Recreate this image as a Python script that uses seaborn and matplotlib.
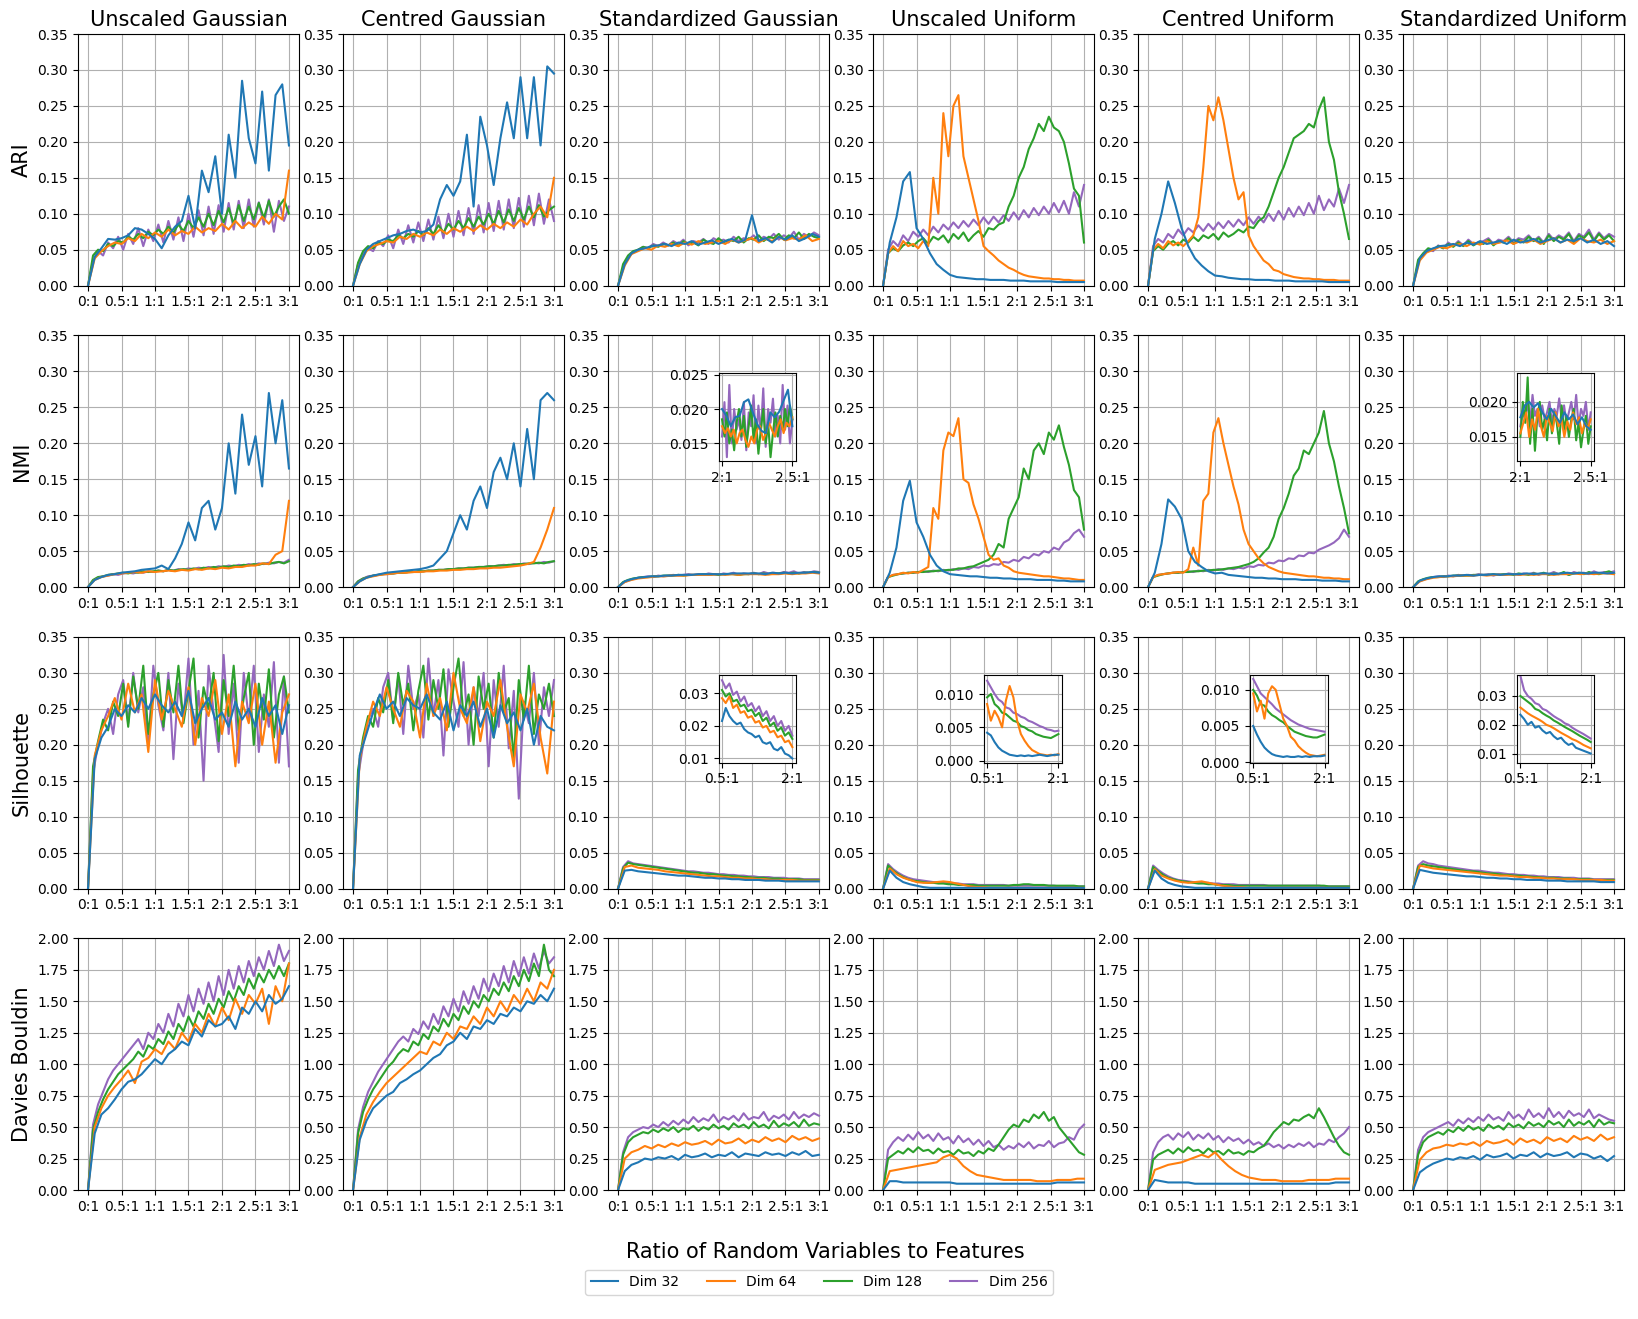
import numpy as np
import pandas as pd
import matplotlib
matplotlib.use("Agg")
import matplotlib.pyplot as plt
import seaborn as sns

# ---------------------------------------------------------------- labels
DIMS = [32, 64, 128, 256]
DIM_LABELS = ["Dim 32", "Dim 64", "Dim 128", "Dim 256"]
COLUMN_TITLES = ["Unscaled Gaussian", "Centred Gaussian", "Standardized Gaussian",
                 "Unscaled Uniform", "Centred Uniform", "Standardized Uniform"]
ROW_LABELS = ["ARI", "NMI", "Silhouette", "Davies Bouldin"]
X_TICKS = [0, 0.5, 1, 1.5, 2, 2.5, 3]
X_TICK_LABELS = ["0:1", "0.5:1", "1:1", "1.5:1", "2:1", "2.5:1", "3:1"]
X_LABEL = "Ratio of Random Variables to Features"
RATIO_START, RATIO_END = 0.0, 3.0

# ---------------------------------------------------------------- data
# ARI / NMI / Silhouette values in thousandths, Davies Bouldin in hundredths,
# each series sampled evenly over the ratio range 0:1 .. 3:1
ARI_UG_D32 = [0,40,52,65,64,66,70,80,78,72,65,52,70,82,90,125,80,160,130,180,100,210,150,285,205,170,270,160,265,280,195]
ARI_UG_D64 = [0,38,48,55,60,58,66,62,72,66,74,68,78,70,76,72,82,74,80,76,86,78,90,80,88,82,96,86,100,92,160]
ARI_UG_D128 = [0,42,50,48,58,55,62,60,68,64,72,66,75,70,78,72,82,74,85,76,90,80,95,82,100,84,104,88,108,86,112,90,110,92,115,94,118,96,110,120,100]
ARI_UG_D256 = [0,35,48,42,60,52,68,50,72,58,80,55,78,62,85,60,90,64,95,62,100,68,105,70,110,72,112,75,115,78,118,80,120,82,116,85,120,75,118,90,110]

ARI_CG_D32 = [0,30,50,58,62,66,70,72,76,78,74,76,85,120,140,125,145,210,110,235,195,140,205,255,205,290,205,290,195,305,295]
ARI_CG_D64 = [0,30,48,55,58,62,60,68,65,72,68,74,70,78,72,80,75,82,76,84,78,86,80,88,82,92,85,100,110,95,150]
ARI_CG_D128 = [0,32,48,55,52,60,58,64,62,70,66,72,68,76,70,80,72,84,74,86,78,90,80,94,82,96,85,100,86,104,88,106,90,108,92,110,95,112,96,105,110]
ARI_CG_D256 = [0,30,45,52,48,62,55,70,52,78,58,84,60,88,62,92,64,96,66,100,68,104,70,108,72,112,74,115,76,118,78,120,80,122,82,125,84,128,86,120,90]

ARI_SG_D32 = [0,30,45,50,52,55,56,58,55,60,58,62,57,60,63,58,62,65,60,64,98,62,66,60,68,64,70,62,66,72,68]
ARI_SG_D64 = [0,28,44,48,52,50,56,54,58,55,60,57,62,58,60,62,58,64,60,63,66,60,65,62,68,63,66,64,70,62,65]
ARI_SG_D128 = [0,30,42,48,50,54,52,56,54,58,56,60,55,62,58,60,56,64,60,58,66,60,64,62,68,60,66,64,70,62,68,66,72,64,70,66,74,65,72,68,66]
ARI_SG_D256 = [0,25,40,46,50,54,52,58,55,60,56,62,58,64,56,62,60,65,58,66,62,64,60,68,62,66,64,70,62,68,65,72,64,70,66,75,64,72,68,74,70]

ARI_UU_D32 = [0,60,95,145,158,80,65,45,30,22,15,12,11,10,9,9,8,8,8,7,7,7,6,6,6,6,5,5,5,5,5]
ARI_UU_D64 = [0,45,55,48,62,55,58,52,62,55,150,100,240,180,250,265,180,150,120,90,55,48,42,35,30,25,22,18,15,13,12,11,10,10,9,9,8,8,7,7,7]
ARI_UU_D128 = [0,45,52,48,56,60,55,62,66,58,68,64,70,60,72,65,74,62,70,76,68,80,78,85,88,110,125,150,165,190,205,225,215,235,220,215,200,170,135,125,60]
ARI_UU_D256 = [0,50,62,55,70,62,75,68,78,70,82,74,85,78,88,80,90,82,92,84,95,86,96,88,98,90,102,92,105,95,108,98,110,100,115,102,118,100,130,110,140]

ARI_CU_D32 = [0,65,100,145,115,80,55,38,28,20,14,13,11,10,9,9,8,8,8,7,7,7,6,6,6,6,6,5,5,5,5]
ARI_CU_D64 = [0,50,58,52,62,56,60,55,62,70,95,165,250,230,262,230,190,150,120,130,70,55,45,35,30,22,20,16,14,12,11,10,10,9,9,8,8,8,7,7,7]
ARI_CU_D128 = [0,48,55,50,58,62,56,64,60,68,62,70,66,72,64,74,68,72,78,74,82,80,90,95,110,130,150,165,185,205,210,215,225,220,245,262,200,175,130,100,65]
ARI_CU_D256 = [0,55,65,60,72,66,78,70,80,74,84,76,86,78,88,80,90,82,92,84,95,86,96,88,100,90,104,92,108,96,110,98,115,100,125,105,120,110,135,115,140]

ARI_SU_D32 = [0,38,48,52,55,56,58,55,60,57,62,58,60,62,58,64,60,62,65,60,63,66,60,64,62,66,60,64,58,62,55]
ARI_SU_D64 = [0,35,46,50,54,52,56,58,55,60,57,62,58,60,63,58,62,60,64,58,62,66,60,64,58,66,62,60,64,58,62]
ARI_SU_D128 = [0,36,45,52,50,55,52,58,54,60,55,62,56,60,58,64,56,62,60,66,58,64,60,68,62,66,58,70,62,68,64,72,60,70,66,74,62,72,64,70,62]
ARI_SU_D256 = [0,32,44,50,48,56,52,60,55,62,56,64,58,60,62,66,58,64,62,68,60,66,64,70,62,68,60,72,64,70,66,74,62,72,68,78,64,74,66,72,68]

NMI_UG_D32 = [0,10,14,17,18,20,21,22,24,25,26,30,25,40,60,90,65,110,120,80,110,200,130,240,170,210,140,270,200,260,165]
NMI_UG_D64 = [0,10,14,16,18,19,20,21,20,22,21,22,23,22,24,23,25,24,26,25,27,26,28,28,30,30,33,32,45,50,120]
NMI_UG_D128 = [0,10,14,15,17,18,19,20,19,21,20,22,21,22,23,22,24,23,24,25,24,26,25,27,26,28,27,29,28,30,29,31,30,32,31,33,32,34,35,33,36]
NMI_UG_D256 = [0,9,13,15,16,18,17,19,20,19,21,20,22,21,23,22,24,23,25,24,26,25,27,26,28,27,29,28,30,29,31,30,32,31,33,32,34,33,35,34,38]

NMI_CG_D32 = [0,8,13,16,18,20,21,22,23,24,25,27,30,40,50,75,100,80,120,140,110,160,180,150,200,140,220,150,260,270,260]
NMI_CG_D64 = [0,8,13,15,17,18,19,20,20,21,21,22,22,23,23,24,24,25,25,26,26,27,27,28,29,30,32,35,55,80,110]
NMI_CG_D128 = [0,8,12,14,16,17,18,19,19,20,20,21,21,22,22,23,23,24,24,25,25,26,26,27,27,28,28,29,29,30,30,31,31,32,32,33,33,34,33,35,36]
NMI_CG_D256 = [0,8,12,15,16,17,18,18,19,20,20,21,21,22,22,23,23,24,24,25,25,26,26,27,27,28,28,29,29,30,31,30,32,31,33,32,34,33,35,34,36]

NMI_SG_D32 = [0,8,11,13,14,15,15,16,16,17,17,17,18,18,18,18,18,19,19,19,19,19,18,20,19,20,19,20,20,21,20]
NMI_SG_D64 = [0,7,10,12,13,14,15,15,16,16,16,17,17,17,17,18,17,18,17,18,18,18,17,18,18,19,18,19,19,20,19]
NMI_SG_D128 = [0,7,10,12,13,14,14,15,15,16,16,16,17,16,17,17,17,18,17,18,17,18,18,18,17,18,18,19,18,19,18,19,19,20,19,20,19,20,20,21,20]
NMI_SG_D256 = [0,6,9,11,13,14,15,14,16,15,16,17,16,17,18,17,18,17,19,18,17,19,18,20,17,19,18,20,18,21,19,20,19,21,20,22,19,21,20,22,21]

NMI_UU_D32 = [0,20,55,120,148,90,70,45,30,22,18,17,16,15,15,14,13,13,12,12,11,11,11,10,10,10,9,9,8,8,8]
NMI_UU_D64 = [0,14,17,18,20,19,21,20,24,28,110,95,190,215,210,235,150,145,115,95,70,45,38,40,30,27,22,20,19,18,17,16,15,15,14,13,12,12,11,10,10]
NMI_UU_D128 = [0,14,16,18,19,20,20,21,21,22,22,23,23,24,24,26,26,28,29,32,35,38,45,60,55,95,110,125,165,150,190,200,185,215,205,225,195,170,135,125,80]
NMI_UU_D256 = [0,14,17,18,19,20,20,21,22,21,23,22,24,23,25,24,26,25,28,27,30,29,32,31,35,34,38,36,42,40,46,44,50,48,55,52,62,66,75,80,70]

NMI_CU_D32 = [0,20,60,122,112,95,50,35,28,22,19,20,17,16,15,14,13,13,12,12,11,11,11,10,10,10,9,9,9,8,8]
NMI_CU_D64 = [0,14,17,18,19,20,21,20,25,55,30,120,130,215,235,200,170,140,115,80,60,50,40,33,28,25,22,20,19,18,17,16,15,15,14,13,13,12,12,11,11]
NMI_CU_D128 = [0,14,16,18,19,20,20,21,21,22,22,23,23,24,24,25,26,27,28,30,32,35,40,48,55,70,95,110,130,155,165,190,185,200,215,245,200,175,140,110,75]
NMI_CU_D256 = [0,14,17,18,19,20,20,21,22,21,23,22,24,23,25,24,26,25,27,26,29,28,31,30,34,33,37,36,40,39,44,43,48,47,52,55,58,62,68,80,70]

NMI_SU_D32 = [0,9,12,14,15,15,16,16,17,16,17,17,18,17,18,18,18,19,18,19,19,18,19,20,19,20,19,20,20,19,20]
NMI_SU_D64 = [0,8,11,13,14,15,15,16,16,16,17,16,17,17,17,18,17,18,17,18,18,17,18,18,19,18,19,18,19,19,18]
NMI_SU_D128 = [0,8,11,13,14,14,15,15,16,16,16,16,17,17,17,17,18,17,18,18,17,19,18,17,19,18,20,17,19,18,21,17,19,20,18,21,19,18,20,22,19]
NMI_SU_D256 = [0,7,10,12,14,15,14,16,15,17,16,17,16,18,17,18,16,18,17,19,18,17,19,18,20,17,19,18,21,18,20,17,21,19,20,18,22,19,21,20,22]

SIL_UG_D32 = [0,180,210,225,250,240,255,245,265,250,270,255,245,260,240,275,230,250,265,235,245,225,260,235,250,225,265,240,255,215,255]
SIL_UG_D64 = [0,185,220,240,265,235,285,245,270,190,290,235,275,250,225,280,200,265,240,290,215,270,170,260,230,285,200,260,175,245,270]
SIL_UG_D128 = [0,170,205,235,220,260,240,285,225,295,250,310,215,270,300,225,290,245,310,230,275,320,210,280,250,300,205,290,240,310,220,265,300,200,285,235,305,210,270,295,245]
SIL_UG_D256 = [0,160,200,230,250,215,270,290,230,300,245,280,200,310,255,220,300,180,285,235,320,200,275,150,310,245,190,325,215,285,175,300,235,310,190,270,225,315,175,295,170]

SIL_CG_D32 = [0,185,215,245,270,250,260,240,265,255,250,270,245,235,260,220,255,240,260,225,250,210,255,230,245,220,250,200,240,225,220]
SIL_CG_D64 = [0,180,225,260,240,280,250,225,275,260,210,285,240,265,220,300,250,230,280,205,260,240,290,225,170,270,245,285,210,160,260]
SIL_CG_D128 = [0,165,210,240,225,265,245,290,230,300,255,285,220,275,310,235,290,250,305,225,280,320,240,270,200,295,250,285,210,300,245,265,180,290,235,310,215,270,250,285,240]
SIL_CG_D256 = [0,155,200,235,250,225,280,300,235,295,215,310,250,270,210,320,240,290,185,305,260,225,315,200,280,240,300,170,290,225,310,195,275,125,260,230,300,200,280,240,290]

SIL_SG_D32 = [0,25,26,24,23,22,21,20,19,18,18,17,16,15,15,14,14,13,13,12,12,12,11,11,11,10,10,10,10,10,10]
SIL_SG_D64 = [0,30,32,29,28,27,26,24,23,22,21,20,19,18,17,17,16,15,15,14,14,13,13,12,12,12,12,11,11,11,11]
SIL_SG_D128 = [0,28,36,34,33,32,31,30,29,28,27,26,25,24,23,22,22,21,20,20,19,18,18,17,17,16,16,15,15,15,14,14,14,13,13,13,13,12,12,12,12]
SIL_SG_D256 = [0,30,38,35,34,33,32,31,30,29,28,27,26,25,24,24,23,22,22,21,20,20,19,19,18,18,17,17,16,16,16,15,15,15,14,14,14,13,13,13,13]

SIL_UU_D32 = [0,25,15,9,6,4,2,1,1,1,1,1,1,1,1,1,1,1,1,1,1,1,1,1,1,1,1,1,1,1,1]
SIL_UU_D64 = [0,28,20,15,12,9,8,8,9,10,9,7,5,3,2,2,1,1,1,1,1,1,1,1,1,1,1,1,1,1,1]
SIL_UU_D128 = [0,32,25,20,16,13,11,10,9,8,8,7,7,6,6,5,5,5,5,4,4,4,4,4,4,4,5,5,6,6,5,5,5,4,4,4,4,4,4,3,3]
SIL_UU_D256 = [0,34,27,22,18,15,13,12,11,10,9,9,8,8,7,7,6,6,6,5,5,5,5,5,5,4,4,4,4,4,4,4,4,4,4,3,3,3,3,3,3]

SIL_CU_D32 = [0,25,14,8,5,3,2,1,1,1,1,1,1,1,1,1,1,1,1,1,1,1,1,1,1,1,1,1,1,1,1]
SIL_CU_D64 = [0,27,18,14,11,9,8,9,10,8,6,4,3,2,2,1,1,1,1,1,1,1,1,1,1,1,1,1,1,1,1]
SIL_CU_D128 = [0,30,24,19,15,13,11,10,9,8,7,7,6,6,5,5,5,4,4,4,4,4,4,4,4,4,4,4,4,4,4,4,4,4,4,4,3,3,3,3,3]
SIL_CU_D256 = [0,32,26,21,17,14,12,11,10,9,9,8,8,7,7,6,6,6,5,5,5,5,5,5,4,4,4,4,4,4,4,4,4,4,4,3,3,3,3,3,3]

SIL_SU_D32 = [0,26,24,22,21,20,19,18,17,17,16,15,15,14,14,13,13,12,12,12,11,11,11,10,10,10,10,10,9,9,9]
SIL_SU_D64 = [0,32,30,28,27,26,25,24,23,22,21,20,19,18,18,17,16,16,15,15,14,14,13,13,13,12,12,12,12,11,11]
SIL_SU_D128 = [0,30,34,32,31,30,29,28,27,26,25,24,24,23,22,21,21,20,19,19,18,18,17,17,16,16,15,15,15,14,14,14,13,13,13,13,12,12,12,12,12]
SIL_SU_D256 = [0,32,38,35,34,32,31,30,29,28,27,26,25,25,24,23,22,22,21,20,20,19,19,18,18,17,17,16,16,16,15,15,15,14,14,14,13,13,13,13,13]

DB_UG_D32 = [0,45,60,65,72,80,86,88,92,98,104,100,108,112,118,115,128,122,135,130,132,138,128,145,140,150,142,155,148,152,162]
DB_UG_D64 = [0,50,65,75,82,88,95,85,102,105,112,108,118,112,125,118,132,125,140,130,145,135,152,140,155,148,160,132,162,150,180]
DB_UG_D128 = [0,48,62,72,80,86,92,96,100,104,110,106,115,112,120,116,126,120,132,126,138,130,142,136,148,140,152,145,158,150,162,155,168,160,172,165,175,168,178,170,180]
DB_UG_D256 = [0,52,68,78,88,95,100,105,110,115,120,112,125,120,132,125,140,130,148,138,155,142,160,148,165,150,170,155,175,160,178,165,182,170,185,175,190,178,195,182,190]

DB_CG_D32 = [0,40,55,65,70,75,78,85,88,92,95,100,105,108,115,118,125,120,130,128,135,132,140,138,145,142,150,148,155,150,160]
DB_CG_D64 = [0,42,60,70,78,85,90,95,100,105,110,108,118,115,125,120,130,128,138,132,145,138,150,142,155,148,160,150,165,160,175]
DB_CG_D128 = [0,45,62,72,80,86,92,98,102,108,112,110,118,115,124,120,130,126,136,130,140,135,146,140,150,145,155,150,160,155,165,158,170,162,175,166,180,170,195,175,170]
DB_CG_D256 = [0,48,66,78,86,94,100,106,112,118,122,118,128,124,134,128,140,132,146,138,152,142,158,148,162,152,168,158,172,162,178,165,182,170,185,172,188,176,190,180,185]

DB_SG_D32 = [0,15,20,22,25,24,26,25,27,24,28,26,27,29,26,28,27,30,26,29,28,27,30,28,29,27,30,28,31,27,28]
DB_SG_D64 = [0,25,30,32,35,33,36,34,37,35,38,36,37,39,36,40,37,38,41,37,40,38,42,39,41,38,43,40,42,39,41]
DB_SG_D128 = [0,28,38,42,44,46,45,48,46,49,47,50,46,49,48,51,47,50,48,52,49,51,48,53,50,52,49,54,50,52,49,55,50,53,51,54,50,56,51,53,52]
DB_SG_D256 = [0,30,42,46,48,50,49,52,50,54,51,55,52,56,53,58,54,57,55,60,54,58,56,59,55,61,56,58,57,62,55,59,57,60,56,62,57,60,58,61,59]

DB_UU_D32 = [0,7,7,6,6,6,6,6,6,6,6,5,5,5,5,5,5,5,5,5,5,5,5,5,5,5,6,6,6,6,6]
DB_UU_D64 = [0,15,16,17,18,19,20,21,22,26,28,25,19,15,12,11,10,9,8,8,8,8,8,7,7,7,8,8,8,9,9]
DB_UU_D128 = [0,25,28,31,29,33,30,34,31,32,29,33,30,31,28,32,29,30,27,31,29,33,31,36,42,48,52,50,56,54,60,57,62,55,58,50,45,40,35,30,28]
DB_UU_D256 = [0,32,38,42,39,44,40,46,41,44,39,45,40,42,37,43,38,41,36,40,35,39,34,36,32,35,33,37,34,38,33,36,35,39,34,37,38,42,40,48,52]

DB_CU_D32 = [0,8,7,6,6,6,6,5,5,5,5,5,5,5,5,5,5,5,5,5,5,5,5,5,5,5,5,5,6,6,6]
DB_CU_D64 = [0,16,18,20,21,22,24,26,28,26,30,24,19,15,12,10,9,8,8,8,7,7,7,7,8,8,8,8,9,9,9]
DB_CU_D128 = [0,24,28,30,32,29,33,30,34,31,32,29,33,30,31,28,32,29,30,28,31,30,33,35,40,46,50,54,52,56,55,58,60,57,65,58,50,42,35,30,28]
DB_CU_D256 = [0,30,38,42,44,40,45,42,46,40,44,41,45,40,43,38,42,39,41,37,40,36,38,35,37,34,36,33,36,34,37,35,38,34,37,36,40,38,42,45,50]

DB_SU_D32 = [0,14,18,21,23,25,24,26,25,27,24,28,26,27,29,25,28,27,30,26,29,27,28,30,26,29,28,25,27,23,27]
DB_SU_D64 = [0,24,30,33,34,36,35,37,36,38,35,39,37,38,40,36,41,38,40,37,42,39,41,38,43,40,42,39,44,40,42]
DB_SU_D128 = [0,28,38,42,44,46,44,48,46,50,47,51,48,50,47,52,49,51,48,53,50,52,49,54,51,53,50,55,52,54,50,56,51,54,52,55,50,56,52,54,53]
DB_SU_D256 = [0,32,42,46,48,50,52,54,51,56,53,57,54,58,55,60,56,58,55,62,57,60,56,64,58,61,57,65,58,62,57,63,59,61,58,64,57,60,58,56,55]

# inset series, values in ten-thousandths
INSET_NMI_SG_D32 = [200,190,175,188,190,210,214,195,178,168,165,195,188,196,212,228,175]
INSET_NMI_SG_D64 = [175,165,172,160,170,150,165,170,155,145,160,150,170,175,155,165,180,170,160,175,185,165,180,175,188]
INSET_NMI_SG_D128 = [185,160,195,150,170,140,180,200,160,190,145,175,205,155,185,135,170,200,150,180,130,165,195,160,190,170,200,175,205,185]
INSET_NMI_SG_D256 = [160,210,130,235,150,200,170,185,155,210,140,195,175,220,150,205,165,230,145,200,180,215,160,190,150,235,170,205,150,185]

INSET_NMI_SU_D32 = [178,195,200,192,198,185,175,190,180,170,185,175,182,168,178,165,160]
INSET_NMI_SU_D64 = [155,170,185,150,175,160,190,165,150,180,170,158,185,165,175,150,172,160,185,168,178,155,170,162,175]
INSET_NMI_SU_D128 = [150,200,170,235,140,190,130,180,200,160,175,145,190,155,185,170,140,195,160,180,150,175,190,145,170,135,160,180,140,165]
INSET_NMI_SU_D256 = [165,185,175,200,170,210,180,190,165,195,175,185,200,170,190,180,205,175,195,170,185,200,175,210,165,190,180,200,160,185]

INSET_SIL_SG_D32 = [215,255,230,215,205,210,190,180,175,165,170,150,145,150,130,125,135,115,110,100]
INSET_SIL_SG_D64 = [285,270,290,255,265,240,245,225,230,210,215,195,200,180,185,165,170,150,155,135]
INSET_SIL_SG_D128 = [310,290,300,275,280,260,265,245,250,230,240,215,225,200,210,185,195,170,180,160]
INSET_SIL_SG_D256 = [340,315,330,295,305,275,290,260,270,245,260,230,245,215,230,200,215,185,200,170]

INSET_SIL_UU_D32 = [42,38,28,20,15,12,9,8,7,8,7,8,7,8,9,8,7,8,9,9]
INSET_SIL_UU_D64 = [85,60,75,65,50,90,112,95,60,40,30,22,16,13,10,9,8,9,8,10]
INSET_SIL_UU_D128 = [95,100,85,80,72,70,65,60,58,52,50,46,44,40,38,36,35,34,37,40]
INSET_SIL_UU_D256 = [120,110,100,92,88,80,78,72,70,66,64,60,58,55,52,50,47,46,44,45]

INSET_SIL_CU_D32 = [50,38,28,20,15,11,9,8,7,8,7,7,8,7,8,7,8,8,8,9]
INSET_SIL_CU_D64 = [95,70,85,60,95,105,100,80,60,50,35,30,22,17,13,10,9,8,9,10]
INSET_SIL_CU_D128 = [100,92,80,78,70,65,62,58,55,50,46,42,40,38,36,35,34,34,36,38]
INSET_SIL_CU_D256 = [115,105,95,90,85,80,74,70,66,62,58,55,52,50,48,46,45,44,43,42]

INSET_SIL_SU_D32 = [235,220,200,210,190,195,180,170,175,160,150,155,140,130,135,120,115,110,105,100]
INSET_SIL_SU_D64 = [260,250,240,232,225,218,210,200,195,188,180,172,165,158,150,145,138,130,124,118]
INSET_SIL_SU_D128 = [300,290,280,270,255,250,240,232,225,215,208,200,192,185,178,170,162,155,148,140]
INSET_SIL_SU_D256 = [370,320,300,290,275,270,255,250,240,230,222,215,205,200,190,182,175,168,160,152]

# ---------------------------------------------------------------- styling
METRICS = ["ARI", "NMI", "SIL", "DB"]
COLS = ["UG", "CG", "SG", "UU", "CU", "SU"]
UNIT = {"ARI": 1000.0, "NMI": 1000.0, "SIL": 1000.0, "DB": 100.0}
INSET_UNIT = 10000.0
TAB10 = sns.color_palette("tab10", 10)
COLOR = {32: TAB10[0], 64: TAB10[1], 128: TAB10[2], 256: TAB10[4]}

# inset: key -> (ratio range, ylim, yticks, tick labels, axes-fraction bounds)
INSETS = {
    ("NMI", "SG"): ((2.0, 2.5), (0.0124, 0.0252), [0.015, 0.020, 0.025], ["2:1", "2.5:1"], [0.50, 0.50, 0.35, 0.35]),
    ("NMI", "SU"): ((2.0, 2.5), (0.0115, 0.0241), [0.015, 0.020], ["2:1", "2.5:1"], [0.515, 0.50, 0.35, 0.35]),
    ("SIL", "SG"): ((0.5, 2.0), (0.0087, 0.0357), [0.01, 0.02, 0.03], ["0.5:1", "2:1"], [0.50, 0.50, 0.35, 0.35]),
    ("SIL", "UU"): ((0.5, 2.0), (-0.0003, 0.0129), [0.0, 0.005, 0.010], ["0.5:1", "2:1"], [0.50, 0.50, 0.355, 0.35]),
    ("SIL", "CU"): ((0.5, 2.0), (-0.0001, 0.0121), [0.0, 0.005, 0.010], ["0.5:1", "2:1"], [0.505, 0.50, 0.355, 0.35]),
    ("SIL", "SU"): ((0.5, 2.0), (0.0068, 0.0374), [0.01, 0.02, 0.03], ["0.5:1", "2:1"], [0.515, 0.50, 0.35, 0.35]),
}


def draw_series(ax, prefix, unit, lo, hi, handles=None):
    # larger dimensions drawn first so Dim 32 ends up on top
    for d in reversed(DIMS):
        vals = np.asarray(globals()[f"{prefix}_D{d}"], dtype=float) / unit
        df = pd.DataFrame({"ratio": np.linspace(lo, hi, len(vals)), "value": vals})
        sns.lineplot(data=df, x="ratio", y="value", ax=ax, color=COLOR[d],
                     linewidth=1.5, estimator=None, sort=False, legend=False)
        if handles is not None:
            handles[d] = ax.lines[-1]


fig, axes = plt.subplots(4, 6, figsize=(16.38, 13.19), dpi=100)
fig.subplots_adjust(left=0.0476, right=0.9915, top=0.9742, bottom=0.0978,
                    wspace=0.199, hspace=0.198)

legend_handles = {}
for r, metric in enumerate(METRICS):
    for c, col in enumerate(COLS):
        ax = axes[r, c]
        draw_series(ax, f"{metric}_{col}", UNIT[metric], RATIO_START, RATIO_END,
                    legend_handles if (r == 0 and c == 0) else None)
        ax.grid(True, color="#b0b0b0", linewidth=0.8)
        ax.set_xticks(X_TICKS)
        ax.set_xticklabels(X_TICK_LABELS)
        if metric == "DB":
            ax.set_ylim(0, 2.0)
            ax.set_yticks(np.arange(0, 2.01, 0.25))
        else:
            ax.set_ylim(0, 0.35)
            ax.set_yticks(np.arange(0, 0.351, 0.05))
        ax.set_xlabel("")
        ax.set_ylabel("")
        ax.tick_params(labelsize=10)
        if r == 0:
            ax.set_title(COLUMN_TITLES[c], fontsize=15)
        if c == 0:
            ax.set_ylabel(ROW_LABELS[r], fontsize=15)

        key = (metric, col)
        if key in INSETS:
            (lo, hi), ylim, yticks, xlabels, bounds = INSETS[key]
            ins = ax.inset_axes(bounds)
            draw_series(ins, f"INSET_{metric}_{col}", INSET_UNIT, lo, hi)
            pad = 0.05 * (hi - lo)
            ins.set_xlim(lo - pad, hi + pad)
            ins.set_ylim(*ylim)
            ins.set_xticks([lo, hi])
            ins.set_xticklabels(xlabels)
            ins.set_yticks(yticks)
            ins.grid(True, color="#b0b0b0", linewidth=0.8)
            ins.set_xlabel("")
            ins.set_ylabel("")
            ins.tick_params(labelsize=10)

fig.text(0.504, 0.051, X_LABEL, ha="center", va="center", fontsize=15)
fig.legend([legend_handles[d] for d in DIMS], DIM_LABELS, loc="center",
           bbox_to_anchor=(0.5, 0.028), ncol=4, fontsize=10)

fig.savefig("out.png", dpi=100)
